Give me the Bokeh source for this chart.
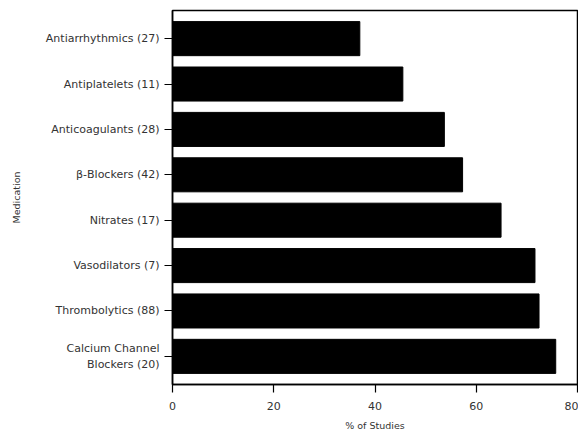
from bokeh.plotting import figure
from bokeh.models import FactorRange, Range1d, FixedTicker
from bokeh.embed import file_html
from bokeh.resources import INLINE

categories = [
    "Antiarrhythmics (27)",
    "Antiplatelets (11)",
    "Anticoagulants (28)",
    "\u03b2-Blockers (42)",
    "Nitrates (17)",
    "Vasodilators (7)",
    "Thrombolytics (88)",
    "Calcium Channel\nBlockers (20)",
]
percent_studies = [37, 45.5, 53.7, 57.3, 64.9, 71.6, 72.4, 75.7]
x_ticks = [0, 20, 40, 60, 80]

factors = list(reversed(categories))

p = figure(
    width=578, height=433,
    y_range=FactorRange(factors=factors, range_padding=0.12, range_padding_units="absolute"),
    x_range=Range1d(0, 80),
    output_backend="svg", toolbar_location=None,
    min_border_left=172, min_border_right=1, min_border_top=10, min_border_bottom=48,
)

p.hbar(y=categories, right=percent_studies, left=0, height=0.75,
       fill_color="black", line_color="black")

font = "DejaVu Sans"
label_color = "#333333"

p.xgrid.visible = False
p.ygrid.visible = False
p.outline_line_color = "black"
p.outline_line_width = 1.5
p.background_fill_color = "white"
p.border_fill_color = "white"

p.xaxis.ticker = FixedTicker(ticks=x_ticks)
p.xaxis.axis_label = "% of Studies"
p.yaxis.axis_label = "Medication"
for ax in (p.xaxis, p.yaxis):
    ax.axis_line_color = "black"
    ax.axis_line_width = 1.5
    ax.major_tick_line_color = "black"
    ax.major_tick_line_width = 1.2
    ax.major_tick_in = 0
    ax.major_tick_out = 8
    ax.minor_tick_line_color = None
    ax.major_label_text_font = font
    ax.major_label_text_font_size = "11px"
    ax.major_label_text_color = label_color
    ax.axis_label_text_font = font
    ax.axis_label_text_font_size = "9.5px"
    ax.axis_label_text_font_style = "normal"
    ax.axis_label_text_color = label_color

p.xaxis.major_label_standoff = 9
p.xaxis.axis_label_standoff = 7
p.yaxis.major_label_standoff = 5
p.yaxis.axis_label_standoff = 21

open("out.html", "w").write(file_html(p, INLINE))
